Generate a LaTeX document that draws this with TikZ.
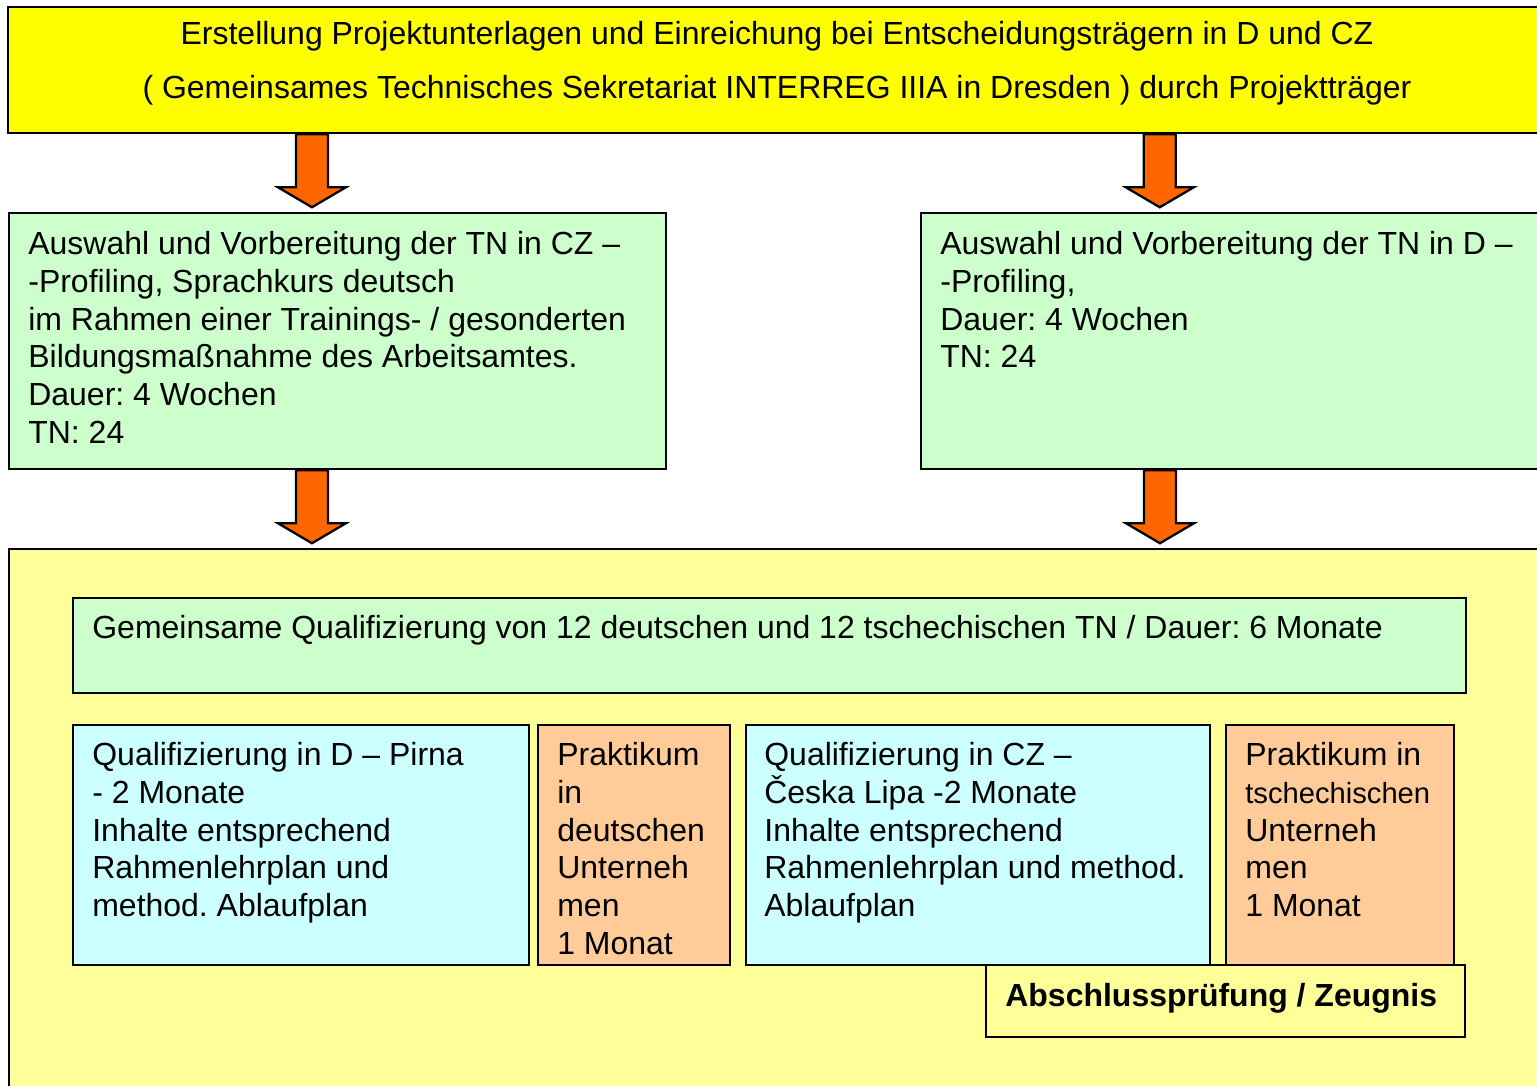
\documentclass[tikz,border=0pt]{standalone}
\usepackage{fontspec}
\setmainfont{Liberation Sans}
\frenchspacing
\usetikzlibrary{positioning,calc}
\definecolor{signalyellow}{RGB}{255,255,0}
\definecolor{paleyellow}{RGB}{255,255,153}
\definecolor{palegreen}{RGB}{204,255,204}
\definecolor{palecyan}{RGB}{204,255,255}
\definecolor{paleorange}{RGB}{255,204,153}
\definecolor{arroworange}{RGB}{255,102,0}

% block arrow pointing down, #1 = top centre
\newcommand{\blockarrow}[1]{\draw[blockarrow] (#1) ++(-16,0) -- ++(0,53) -- ++(-18,0) -- ++(34,20) -- ++(34,-20) -- ++(-18,0) -- ++(0,-53) -- cycle;}

\begin{document}
\begin{tikzpicture}[x=0.02cm,y=-0.02cm,
    box/.style={rectangle,draw,line width=1.3pt,anchor=north west,inner sep=0pt},
    txt/.style={anchor=north west,align=left,inner sep=0pt,font=\fontsize{18.2}{21.5}\selectfont},
    blockarrow/.style={draw,line width=1.3pt,fill=arroworange,line join=miter}]
    \useasboundingbox (0,0) rectangle (1537,1085);

    % Application (top)
    \node[box,fill=signalyellow,minimum width=30.76cm,minimum height=2.52cm] (top) at (7,6) {};
    \node[align=center,inner sep=0pt,font=\fontsize{18.2}{30.6}\selectfont] (toptxt) at (777,63)
        {Erstellung Projektunterlagen und Einreichung bei Entscheidungsträgern in D und CZ\\( Gemeinsames Technisches Sekretariat INTERREG IIIA in Dresden ) durch Projektträger};

    % Selection of participants
    \node[box,fill=palegreen,minimum width=13.14cm,minimum height=5.12cm] (selcz) at (8,212) {};
    \node[box,fill=palegreen,minimum width=12.5cm,minimum height=5.12cm] (seld) at (920,212) {};
    \node[txt] (selcztxt) at (28,231) {Auswahl und Vorbereitung der TN in CZ –\\-Profiling, Sprachkurs deutsch\\im Rahmen einer Trainings- / gesonderten\\Bildungsmaßnahme des Arbeitsamtes.\\Dauer: 4 Wochen\\TN: 24};
    \node[txt] (seldtxt) at (940,231) {Auswahl und Vorbereitung der TN in D –\\-Profiling,\\Dauer: 4 Wochen\\TN: 24};

    % Flow arrows
    \blockarrow{[xshift=6.1cm]top.south west}
    \blockarrow{[xshift=23.06cm]top.south west}
    \blockarrow{[xshift=6.08cm]selcz.south west}
    \blockarrow{[xshift=4.8cm]seld.south west}

    % Joint qualification
    \node[box,fill=paleyellow,minimum width=30.74cm,minimum height=10.94cm] (joint) at (8,548) {};
    \node[box,fill=palegreen,minimum width=27.86cm,minimum height=1.9cm] (qual) at (72,597) {};
    \node[txt] (qualtxt) at (92,615) {Gemeinsame Qualifizierung von 12 deutschen und 12 tschechischen TN / Dauer: 6 Monate};

    \node[box,fill=palecyan,minimum width=9.12cm,minimum height=4.8cm] (quald) at (72,724) {};
    \node[box,fill=paleorange,minimum width=3.84cm,minimum height=4.8cm] (prakd) at (537,724) {};
    \node[box,fill=palecyan,minimum width=9.28cm,minimum height=4.8cm] (qualcz) at (745,724) {};
    \node[box,fill=paleorange,minimum width=4.56cm,minimum height=4.8cm] (prakcz) at (1225,724) {};
    \node[txt] (qualdtxt) at (92,742) {Qualifizierung in D – Pirna\\- 2 Monate\\Inhalte entsprechend\\Rahmenlehrplan und\\method. Ablaufplan};
    \node[txt] (prakdtxt) at (557,742) {Praktikum\\in\\deutschen\\Unterneh\\men\\1 Monat};
    \node[txt] (qualcztxt) at (764,742) {Qualifizierung in CZ –\\Česka Lipa -2 Monate\\Inhalte entsprechend\\Rahmenlehrplan und method.\\Ablaufplan};
    \node[txt,font=\fontsize{16.6}{21.5}\selectfont] (prakcztxt) at (1245,742) {\fontsize{18.2}{21.5}\selectfont Praktikum in\\tschechischen\\\fontsize{18.2}{21.5}\selectfont Unterneh\\\fontsize{18.2}{21.5}\selectfont men\\\fontsize{18.2}{21.5}\selectfont 1 Monat};

    % Final exam
    \node[box,fill=paleyellow,minimum width=9.58cm,minimum height=1.44cm] (exam) at (985,964) {};
    \node[txt,font=\fontsize{18.2}{21.5}\selectfont\bfseries] (examtxt) at (1005,983) {Abschlussprüfung / Zeugnis};
\end{tikzpicture}
\end{document}
